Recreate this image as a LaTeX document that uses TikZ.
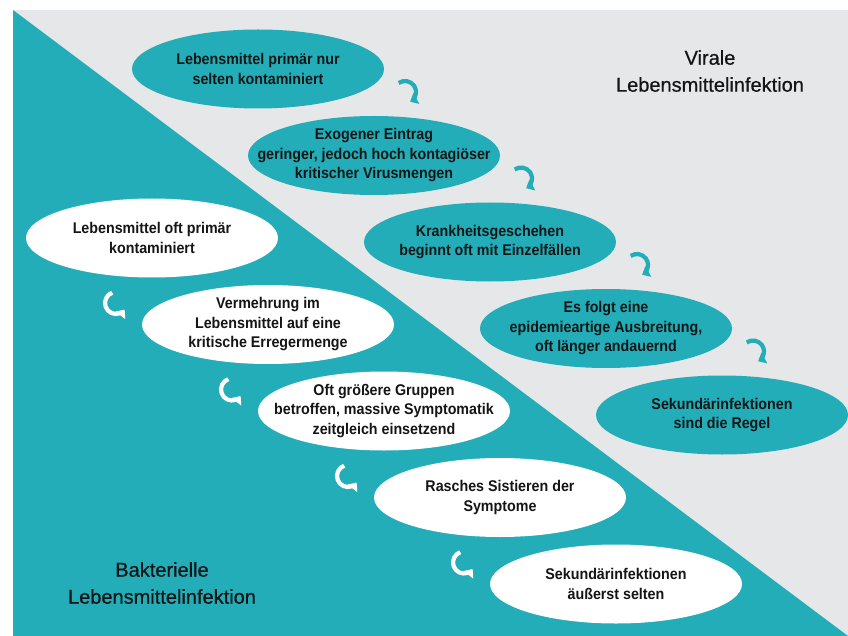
\documentclass[tikz,border=0pt]{standalone}
\usepackage{fontspec}
\usetikzlibrary{shapes.geometric,arrows.meta}
\newfontfamily\boxfont{Liberation Sans}[FakeStretch=0.92]
\newfontfamily\titlefont{Liberation Sans}[FakeBold=0.6]
\definecolor{tealbg}{HTML}{22ADB8}
\definecolor{greybg}{HTML}{E6E7E8}
\definecolor{inktext}{HTML}{151515}
\tikzset{
  vbox/.style={ellipse, fill=tealbg, minimum width=252pt, minimum height=79pt,
    inner xsep=-40pt, inner ysep=-4pt, align=center, text=inktext,
    font=\boxfont\bfseries\fontsize{15.5}{19.5}\selectfont},
  bbox/.style={vbox, fill=white},
  vturn/.style={draw=tealbg, line width=4.2pt, -{Triangle[width=12pt,length=7pt]}},
  bturn/.style={vturn, draw=white},
  sidetitle/.style={anchor=north, align=center, inner sep=0pt, text=inktext,
    font=\titlefont\fontsize{20}{27}\selectfont},
}
\begin{document}
\begin{tikzpicture}[x=1pt, y=1pt]
  \useasboundingbox (0,0) rectangle (848,-636);
  \fill[greybg] (13,-10) rectangle (848,-636);
  \fill[tealbg] (13,-10) -- (848,-636) -- (13,-636) -- cycle;

  % viral chain
  \node[vbox] (v1) at (258,-69) {Lebensmittel primär nur\\selten kontaminiert};
  \node[vbox] (v2) at ([shift={(116,-86.5)}]v1.center) {Exogener Eintrag\\geringer, jedoch hoch kontagiöser\\kritischer Virusmengen};
  \node[vbox] (v3) at ([shift={(116,-86.5)}]v2.center) {Krankheitsgeschehen\\beginnt oft mit Einzelfällen};
  \node[vbox] (v4) at ([shift={(116,-86.5)}]v3.center) {Es folgt eine\\epidemieartige Ausbreitung,\\oft länger andauernd};
  \node[vbox] (v5) at ([shift={(116,-86.5)}]v4.center) {Sekundärinfektionen\\sind die Regel};

  % bacterial chain
  \node[bbox] (b1) at (152,-238) {Lebensmittel oft primär\\kontaminiert};
  \node[bbox] (b2) at ([shift={(116,-86.5)}]b1.center) {Vermehrung im\\Lebensmittel auf eine\\kritische Erregermenge};
  \node[bbox] (b3) at ([shift={(116,-86.5)}]b2.center) {Oft größere Gruppen\\betroffen, massive Symptomatik\\zeitgleich einsetzend};
  \node[bbox] (b4) at ([shift={(116,-86.5)}]b3.center) {Rasches Sistieren der\\Symptome};
  \node[bbox] (b5) at ([shift={(116,-86.5)}]b4.center) {Sekundärinfektionen\\äußerst selten};

  \foreach \i in {1,...,4} {
    \draw[vturn] ([shift={(147,-23)}]v\i.center) ++(125:11) arc[start angle=125, end angle=-62, radius=11];
    \draw[bturn] ([shift={(-36,-65)}]b\i.center) ++(110:11) arc[start angle=110, end angle=322, radius=11];
  }

  \node[sidetitle] (vtitle) at (710,-50) {Virale\\Lebensmittelinfektion};
  \node[sidetitle] (btitle) at (162,-562) {Bakterielle\\Lebensmittelinfektion};
\end{tikzpicture}
\end{document}
